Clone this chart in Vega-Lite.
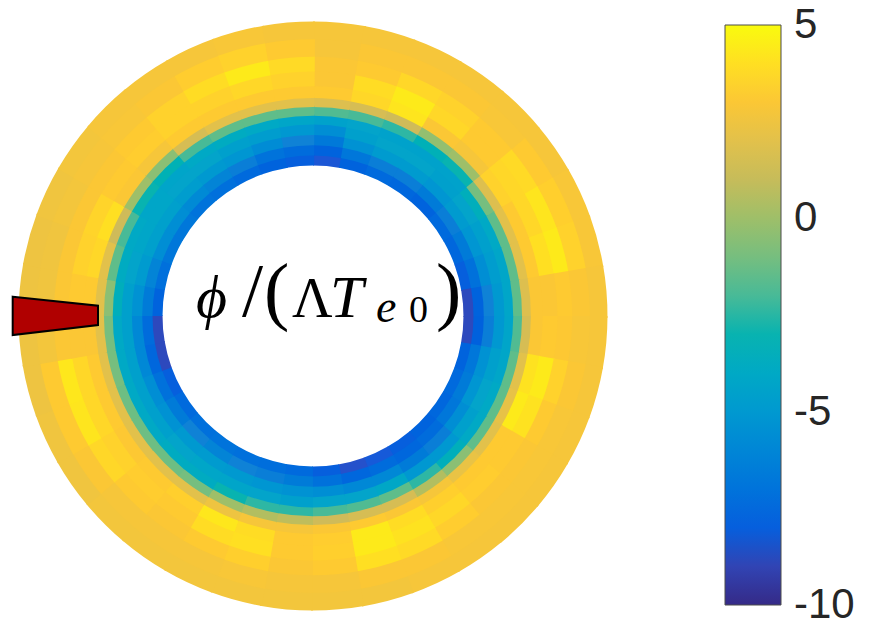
{
  "$schema": "https://vega.github.io/schema/vega-lite/v6.json",
  "width": 875,
  "height": 627,
  "autosize": {"type": "none"},
  "padding": 0,
  "background": "white",
  "config": {"view": {"stroke": null}},
  "datasets": {
    "bands": [
      {"band": "b1", "r": 0.511, "r2": 0.549},
      {"band": "b2", "r": 0.545, "r2": 0.584},
      {"band": "b3", "r": 0.58, "r2": 0.619},
      {"band": "b4", "r": 0.615, "r2": 0.654},
      {"band": "b5", "r": 0.65, "r2": 0.684},
      {"band": "b6", "r": 0.68, "r2": 0.714},
      {"band": "b7", "r": 0.71, "r2": 0.744},
      {"band": "b8", "r": 0.74, "r2": 0.784},
      {"band": "b9", "r": 0.78, "r2": 0.834},
      {"band": "b10", "r": 0.83, "r2": 0.884},
      {"band": "b11", "r": 0.88, "r2": 0.944},
      {"band": "b12", "r": 0.94, "r2": 1.0}
    ],
    "sectors": [
      {"t": 0, "t2": 10.4, "b1": -8.3, "b2": -7.8, "b3": -6.7, "b4": -5.6, "b5": -4.5, "b6": -1.8, "b7": 1.8, "b8": 3.2, "b9": 3, "b10": 3, "b11": 2.8, "b12": 2.8},
      {"t": 10, "t2": 20.4, "b1": -7.8, "b2": -6.8, "b3": -5.4, "b4": -4.6, "b5": -4.4, "b6": -2, "b7": 1.5, "b8": 3.7, "b9": 3.9, "b10": 3.2, "b11": 3, "b12": 2.8},
      {"t": 20, "t2": 30.4, "b1": -7.5, "b2": -6.4, "b3": -4.9, "b4": -4.4, "b5": -4.5, "b6": -2.5, "b7": 1.2, "b8": 4.2, "b9": 4.4, "b10": 3.7, "b11": 3, "b12": 2.8},
      {"t": 30, "t2": 40.4, "b1": -7.6, "b2": -6.4, "b3": -4.9, "b4": -4.4, "b5": -4.5, "b6": -3.3, "b7": -0.3, "b8": 3, "b9": 3.7, "b10": 3.5, "b11": 3, "b12": 2.8},
      {"t": 40, "t2": 50.4, "b1": -7.8, "b2": -6.6, "b3": -5.2, "b4": -4.6, "b5": -4.5, "b6": -3, "b7": 0, "b8": 2.8, "b9": 3.2, "b10": 3.2, "b11": 2.9, "b12": 2.8},
      {"t": 50, "t2": 60.4, "b1": -7.5, "b2": -6.4, "b3": -4.9, "b4": -4.4, "b5": -3.5, "b6": -1, "b7": 1.8, "b8": 3.5, "b9": 3.7, "b10": 3.8, "b11": 3.2, "b12": 2.8},
      {"t": 60, "t2": 70.4, "b1": -7.6, "b2": -6.6, "b3": -5.2, "b4": -4.6, "b5": -4, "b6": -1.5, "b7": 2, "b8": 3.2, "b9": 3.7, "b10": 4.2, "b11": 3.4, "b12": 2.9},
      {"t": 70, "t2": 80.4, "b1": -8, "b2": -7.1, "b3": -5.6, "b4": -4.8, "b5": -4.2, "b6": -1.5, "b7": 2, "b8": 3.2, "b9": 4, "b10": 4.4, "b11": 3.5, "b12": 2.9},
      {"t": 80, "t2": 90.4, "b1": -8.8, "b2": -7.8, "b3": -6.2, "b4": -5, "b5": -4.2, "b6": -1.5, "b7": 1.8, "b8": 3, "b9": 3, "b10": 3.2, "b11": 3, "b12": 2.8},
      {"t": 90, "t2": 100.4, "b1": -8.8, "b2": -7.9, "b3": -6.4, "b4": -5.1, "b5": -4.3, "b6": -1.8, "b7": 1.5, "b8": 3, "b9": 3.2, "b10": 3.1, "b11": 2.9, "b12": 2.8},
      {"t": 100, "t2": 110.4, "b1": -7.8, "b2": -6.8, "b3": -5.4, "b4": -4.6, "b5": -4.2, "b6": -1.5, "b7": 2, "b8": 4.1, "b9": 4.4, "b10": 3.5, "b11": 3, "b12": 2.8},
      {"t": 110, "t2": 120.4, "b1": -7.5, "b2": -6.6, "b3": -5.2, "b4": -4.4, "b5": -4, "b6": -1.5, "b7": 2.2, "b8": 4.4, "b9": 4.1, "b10": 3.2, "b11": 2.9, "b12": 2.8},
      {"t": 120, "t2": 130.4, "b1": -7.6, "b2": -6.8, "b3": -5.6, "b4": -4.6, "b5": -4, "b6": -1.5, "b7": 2, "b8": 3.2, "b9": 3.2, "b10": 3, "b11": 2.9, "b12": 2.8},
      {"t": 130, "t2": 140.4, "b1": -7.8, "b2": -7.4, "b3": -6.4, "b4": -5.1, "b5": -3.5, "b6": -0.5, "b7": 2.3, "b8": 3.2, "b9": 3.3, "b10": 3, "b11": 2.9, "b12": 2.8},
      {"t": 140, "t2": 150.4, "b1": -8, "b2": -7.6, "b3": -6.6, "b4": -5.1, "b5": -2.5, "b6": 0.5, "b7": 2.8, "b8": 3.4, "b9": 3.7, "b10": 3.3, "b11": 2.9, "b12": 2.8},
      {"t": 150, "t2": 160.4, "b1": -8.2, "b2": -7.4, "b3": -5.9, "b4": -4.1, "b5": -1.5, "b6": 1.5, "b7": 3, "b8": 3.9, "b9": 4.1, "b10": 3.8, "b11": 3, "b12": 2.8},
      {"t": 160, "t2": 170.4, "b1": -8.5, "b2": -7.6, "b3": -5.9, "b4": -4.4, "b5": -1.8, "b6": 1.5, "b7": 3.2, "b8": 4.4, "b9": 4.4, "b10": 4, "b11": 3, "b12": 2.7},
      {"t": 170, "t2": 180.4, "b1": -8, "b2": -7.1, "b3": -5.6, "b4": -4.4, "b5": -2, "b6": 1.2, "b7": 3, "b8": 3.3, "b9": 3.4, "b10": 3.2, "b11": 2.8, "b12": 2.7},
      {"t": 180, "t2": 190.4, "b1": -7.5, "b2": -6.6, "b3": -5.4, "b4": -4.6, "b5": -2.5, "b6": 0.8, "b7": 2.8, "b8": 3.2, "b9": 3.2, "b10": 3, "b11": 2.8, "b12": 2.7},
      {"t": 190, "t2": 200.4, "b1": -7.3, "b2": -6.4, "b3": -5.2, "b4": -4.4, "b5": -2.5, "b6": 0.5, "b7": 2.8, "b8": 3.9, "b9": 4, "b10": 3.4, "b11": 2.9, "b12": 2.7},
      {"t": 200, "t2": 210.4, "b1": -7.2, "b2": -6.2, "b3": -5, "b4": -4.3, "b5": -3, "b6": 0, "b7": 2.5, "b8": 4.3, "b9": 3.9, "b10": 3.2, "b11": 2.8, "b12": 2.7},
      {"t": 210, "t2": 220.4, "b1": -7, "b2": -6.1, "b3": -4.9, "b4": -4.2, "b5": -3.8, "b6": -1, "b7": 2, "b8": 3.4, "b9": 3.2, "b10": 3, "b11": 2.8, "b12": 2.7},
      {"t": 220, "t2": 230.4, "b1": -7.2, "b2": -6.2, "b3": -5, "b4": -4.4, "b5": -3.8, "b6": -1.2, "b7": 2, "b8": 3.2, "b9": 3.3, "b10": 3.2, "b11": 2.8, "b12": 2.7},
      {"t": 230, "t2": 240.4, "b1": -7.5, "b2": -6.6, "b3": -5.4, "b4": -4.6, "b5": -4, "b6": -1.2, "b7": 2, "b8": 3.1, "b9": 3.5, "b10": 3.7, "b11": 3, "b12": 2.6},
      {"t": 240, "t2": 250.4, "b1": -8, "b2": -7.1, "b3": -5.6, "b4": -4.6, "b5": -4, "b6": -1.2, "b7": 2, "b8": 3.2, "b9": 3.7, "b10": 4.2, "b11": 3.2, "b12": 2.6},
      {"t": 250, "t2": 260.4, "b1": -8.8, "b2": -7.6, "b3": -5.9, "b4": -4.6, "b5": -4, "b6": -1, "b7": 2, "b8": 3.2, "b9": 3.7, "b10": 4.3, "b11": 3.2, "b12": 2.5},
      {"t": 260, "t2": 270.4, "b1": -8.8, "b2": -7.4, "b3": -5.9, "b4": -4.6, "b5": -4, "b6": -1, "b7": 2, "b8": 3, "b9": 3, "b10": 3, "b11": 2.7, "b12": 2.5},
      {"t": 270, "t2": 280.4, "b1": -7.8, "b2": -6.6, "b3": -5.4, "b4": -4.6, "b5": -3.5, "b6": -0.5, "b7": 2, "b8": 3.2, "b9": 3.2, "b10": 3, "b11": 2.6, "b12": 2.5},
      {"t": 280, "t2": 290.4, "b1": -7.2, "b2": -6.1, "b3": -4.9, "b4": -4.4, "b5": -3.8, "b6": -1.5, "b7": 2, "b8": 3.7, "b9": 3.5, "b10": 3, "b11": 2.6, "b12": 2.5},
      {"t": 290, "t2": 300.4, "b1": -6.8, "b2": -5.6, "b3": -4.6, "b4": -4.2, "b5": -4, "b6": -2, "b7": 1.2, "b8": 4, "b9": 3.6, "b10": 3, "b11": 2.7, "b12": 2.6},
      {"t": 300, "t2": 310.4, "b1": -6.8, "b2": -5.6, "b3": -4.6, "b4": -4.2, "b5": -4.2, "b6": -3, "b7": 0, "b8": 3, "b9": 3.2, "b10": 3, "b11": 2.8, "b12": 2.7},
      {"t": 310, "t2": 320.4, "b1": -7, "b2": -5.8, "b3": -4.8, "b4": -4.4, "b5": -4.3, "b6": -3.2, "b7": -0.5, "b8": 2.8, "b9": 3.3, "b10": 3.2, "b11": 2.9, "b12": 2.8},
      {"t": 320, "t2": 330.4, "b1": -7.2, "b2": -6.1, "b3": -5, "b4": -4.4, "b5": -4, "b6": -2, "b7": 1.5, "b8": 3.2, "b9": 3.5, "b10": 3.5, "b11": 3, "b12": 2.8},
      {"t": 330, "t2": 340.4, "b1": -7.5, "b2": -6.4, "b3": -5.2, "b4": -4.6, "b5": -3.8, "b6": -1.5, "b7": 2, "b8": 3.2, "b9": 3.5, "b10": 3.9, "b11": 3.3, "b12": 2.8},
      {"t": 340, "t2": 350.4, "b1": -7.8, "b2": -7, "b3": -5.7, "b4": -4.8, "b5": -4, "b6": -1.5, "b7": 2, "b8": 3.2, "b9": 3.7, "b10": 4.4, "b11": 3.5, "b12": 2.9},
      {"t": 350, "t2": 360.4, "b1": -8, "b2": -7.4, "b3": -6.2, "b4": -5.1, "b5": -4.2, "b6": -1.5, "b7": 2, "b8": 3.2, "b9": 3.5, "b10": 3.8, "b11": 3.2, "b12": 2.8}
    ],
    "probe": [
      {"px": -1.018, "py": 0.0654, "py2": -0.0644},
      {"px": -0.7288, "py": 0.0349, "py2": -0.0305}
    ],
    "mathItalic": [
      {"gx": -0.3966, "gy": -0.0034, "g": "ϕ"},
      {"gx": 0.0576, "gy": -0.0034, "g": "T"}
    ],
    "mathUpright": [
      {"gx": -0.0712, "gy": -0.0034, "g": "Λ"}
    ],
    "mathDelims": [
      {"gx": -0.2407, "gy": 0.0, "g": "/"},
      {"gx": -0.1661, "gy": 0.0, "g": "("},
      {"gx": 0.4169, "gy": 0.0, "g": ")"}
    ],
    "subItalic": [
      {"gx": 0.2136, "gy": -0.0203, "g": "e"}
    ],
    "subUpright": [
      {"gx": 0.3254, "gy": -0.0203, "g": "0"}
    ]
  },
  "layer": [
    {
      "data": {"name": "sectors"},
      "transform": [
        {"fold": ["b1", "b2", "b3", "b4", "b5", "b6", "b7", "b8", "b9", "b10", "b11", "b12"], "as": ["band", "phi"]},
        {"lookup": "band", "from": {"data": {"name": "bands"}, "key": "band", "fields": ["r", "r2"]}}
      ],
      "mark": {"type": "arc"},
      "encoding": {
        "x": {"datum": 0, "type": "quantitative", "scale": {"domain": [-1.061, 1.9051], "range": [0, 875], "zero": false, "nice": false}, "axis": null},
        "y": {"datum": 0, "type": "quantitative", "scale": {"domain": [-1.0542, 1.0712], "range": [627, 0], "zero": false, "nice": false}, "axis": null},
        "theta": {"field": "t", "type": "quantitative", "stack": null, "scale": {"domain": [0, 360], "range": [0, 6.283185307179586]}},
        "theta2": {"field": "t2"},
        "radius": {"field": "r", "type": "quantitative", "scale": {"type": "linear", "domain": [0, 1], "range": [0, 294.5], "zero": true, "nice": false}},
        "radius2": {"field": "r2"},
        "color": {
          "field": "phi", "type": "quantitative",
          "scale": {"domain": [-10, -8.125, -6.25, -4.375, -2.5, -0.625, 1.25, 3.125, 5], "range": ["#352a87", "#0f5cdd", "#1481d6", "#06a4ca", "#2eb7a4", "#87bf77", "#d1bb59", "#fec832", "#f9fb0e"]},
          "legend": {
            "type": "gradient",
            "orient": "none", "legendX": 725, "legendY": 25, "direction": "vertical",
            "title": null, "gradientLength": 580, "gradientThickness": 56,
            "gradientStrokeColor": "#4d4d4d", "gradientStrokeWidth": 1,
            "values": [5, 0, -5, -10], "labelExpr": "'' + datum.value",
            "labelFont": "Liberation Sans", "labelFontSize": 42, "labelColor": "#262626",
            "labelOffset": 13, "labelOverlap": false, "padding": 0,
            "encoding": {"labels": {"baseline": {"value": "middle"}}}
          }
        }
      }
    },
    {
      "data": {"name": "probe"},
      "mark": {"type": "area", "color": "#b00000", "stroke": "black", "strokeWidth": 2, "orient": "vertical", "opacity": 1},
      "encoding": {
        "x": {"field": "px", "type": "quantitative", "axis": null},
        "y": {"field": "py", "type": "quantitative", "axis": null},
        "y2": {"field": "py2"}
      }
    },
    {
      "data": {"name": "mathItalic"},
      "mark": {"type": "text", "font": "Liberation Serif", "fontStyle": "italic", "fontSize": 60, "align": "left", "baseline": "alphabetic", "color": "black"},
      "encoding": {
        "x": {"field": "gx", "type": "quantitative", "axis": null},
        "y": {"field": "gy", "type": "quantitative", "axis": null},
        "text": {"field": "g"}
      }
    },
    {
      "data": {"name": "mathUpright"},
      "mark": {"type": "text", "font": "Liberation Serif", "fontSize": 56, "align": "left", "baseline": "alphabetic", "color": "black"},
      "encoding": {
        "x": {"field": "gx", "type": "quantitative", "axis": null},
        "y": {"field": "gy", "type": "quantitative", "axis": null},
        "text": {"field": "g"}
      }
    },
    {
      "data": {"name": "mathDelims"},
      "mark": {"type": "text", "font": "Liberation Serif", "fontSize": 76, "align": "left", "baseline": "alphabetic", "color": "black"},
      "encoding": {
        "x": {"field": "gx", "type": "quantitative", "axis": null},
        "y": {"field": "gy", "type": "quantitative", "axis": null},
        "text": {"field": "g"}
      }
    },
    {
      "data": {"name": "subItalic"},
      "mark": {"type": "text", "font": "Liberation Serif", "fontStyle": "italic", "fontSize": 46, "align": "left", "baseline": "alphabetic", "color": "black"},
      "encoding": {
        "x": {"field": "gx", "type": "quantitative", "axis": null},
        "y": {"field": "gy", "type": "quantitative", "axis": null},
        "text": {"field": "g"}
      }
    },
    {
      "data": {"name": "subUpright"},
      "mark": {"type": "text", "font": "Liberation Serif", "fontSize": 38, "align": "left", "baseline": "alphabetic", "color": "black"},
      "encoding": {
        "x": {"field": "gx", "type": "quantitative", "axis": null},
        "y": {"field": "gy", "type": "quantitative", "axis": null},
        "text": {"field": "g"}
      }
    }
  ]
}
